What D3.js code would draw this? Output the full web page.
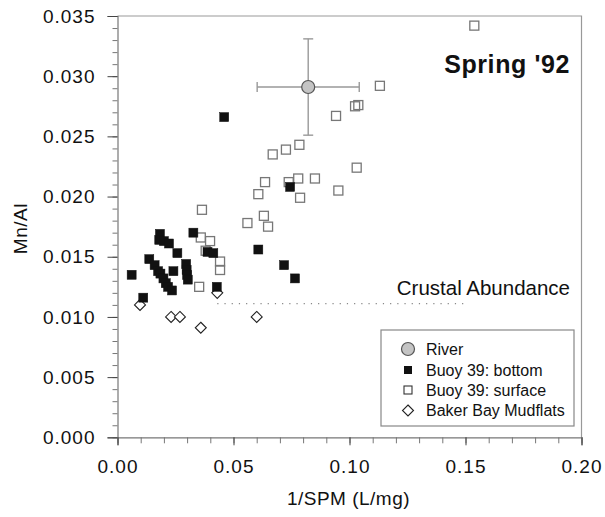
<!DOCTYPE html>
<html>
<head>
<meta charset="utf-8">
<script src="https://cdn.jsdelivr.net/npm/d3@7"></script>
<style>
  html, body { margin: 0; padding: 0; background: #fff; }
  svg text { font-family: "Liberation Sans", Arial, Helvetica, sans-serif; fill: #111; }
</style>
</head>
<body>
<svg id="chart" width="605" height="517"></svg>
<script>
// ---- data ----
const xTickValues = [0.00, 0.05, 0.10, 0.15, 0.20];
const xTickLabels = ["0.00", "0.05", "0.10", "0.15", "0.20"];
const yTickValues = [0.000, 0.005, 0.010, 0.015, 0.020, 0.025, 0.030, 0.035];
const yTickLabels = ["0.000", "0.005", "0.010", "0.015", "0.020", "0.025", "0.030", "0.035"];

const riverX = [0.0822];
const riverY = [0.0291];
const riverXErr = [0.022];
const riverYErr = [0.0040];

const bottomX = [0.0061, 0.0111, 0.0137, 0.0160, 0.0175, 0.0185, 0.0198, 0.0208, 0.0218, 0.0235,
                 0.0183, 0.0180, 0.0200, 0.0222, 0.0258, 0.0241, 0.0296, 0.0298, 0.0300, 0.0303,
                 0.0327, 0.0388, 0.0413, 0.0428, 0.0460, 0.0607, 0.0718, 0.0765, 0.0744];
const bottomY = [0.0135, 0.0116, 0.0148, 0.0143, 0.0138, 0.0136, 0.0132, 0.0128, 0.0125, 0.0122,
                 0.0169, 0.0164, 0.0163, 0.0161, 0.0153, 0.0138, 0.0144, 0.0139, 0.0135, 0.0131,
                 0.0170, 0.0154, 0.0153, 0.0125, 0.0266, 0.0156, 0.0143, 0.0132, 0.0208];

const surfaceX = [0.1538, 0.1131, 0.1024, 0.1038, 0.0942, 0.1031, 0.0784, 0.0726, 0.0669, 0.0636,
                  0.0738, 0.0779, 0.0851, 0.0607, 0.0787, 0.0952, 0.0364, 0.0560, 0.0631, 0.0649,
                  0.0359, 0.0399, 0.0380, 0.0442, 0.0442, 0.0352];
const surfaceY = [0.0342, 0.0292, 0.0275, 0.0276, 0.0267, 0.0224, 0.0243, 0.0239, 0.0235, 0.0212,
                  0.0212, 0.0215, 0.0215, 0.0202, 0.0199, 0.0205, 0.0189, 0.0178, 0.0184, 0.0175,
                  0.0166, 0.0163, 0.0155, 0.0146, 0.0139, 0.0125];

const mudX = [0.0097, 0.0231, 0.0269, 0.0359, 0.0430, 0.0600];
const mudY = [0.0110, 0.0100, 0.0100, 0.0091, 0.0120, 0.0100];

const crustalY = [0.0111];
const crustalXRange = [0.043, 0.150];

const titleText = "Spring '92";
const crustalLabel = "Crustal Abundance";
const xTitle = "1/SPM (L/mg)";
const yTitle = "Mn/Al";
const legendLabels = ["River", "Buoy 39: bottom", "Buoy 39: surface", "Baker Bay Mudflats"];

// ---- layout ----
const svg = d3.select("#chart");
const L = 117.5, R = 581.5, T = 16, B = 437.3;
const x = d3.scaleLinear().domain([0, 0.20]).range([L, R]);
const y = d3.scaleLinear().domain([0, 0.035]).range([B, T]);

const axisColor = "#777";

// frame (top & right)
svg.append("path")
  .attr("d", `M${L},${T}H${R}V${B}`)
  .attr("fill", "none").attr("stroke", "#999").attr("stroke-width", 1.2);

// minor ticks
const gy = svg.append("g").attr("transform", `translate(${L},0)`);
gy.call(d3.axisLeft(y).tickValues(d3.range(0, 36).map(i => i * 0.001)).tickSize(5).tickFormat(""));
gy.select(".domain").remove();
gy.selectAll("line").attr("stroke", axisColor);

const gx = svg.append("g").attr("transform", `translate(0,${B})`);
gx.call(d3.axisBottom(x).tickValues(d3.range(0, 21).map(i => i * 0.01)).tickSize(6).tickFormat(""));
gx.select(".domain").remove();
gx.selectAll("line").attr("stroke", axisColor);

// major ticks + labels
const gyM = svg.append("g").attr("transform", `translate(${L},0)`);
gyM.call(d3.axisLeft(y).tickValues(yTickValues).tickSize(10).tickPadding(12)
  .tickFormat((d, i) => yTickLabels[i]));
gyM.select(".domain").attr("stroke", axisColor).attr("stroke-width", 1.2);
gyM.selectAll("line").attr("stroke", "#444");
gyM.selectAll("text").style("font-size", "19px").style("letter-spacing", "1px").attr("fill", "#111");

const gxM = svg.append("g").attr("transform", `translate(0,${B})`);
gxM.call(d3.axisBottom(x).tickValues(xTickValues).tickSize(8).tickPadding(14)
  .tickFormat((d, i) => xTickLabels[i]));
gxM.select(".domain").attr("stroke", axisColor).attr("stroke-width", 1.2);
gxM.selectAll("line").attr("stroke", "#444");
gxM.selectAll("text").style("font-size", "19px").style("letter-spacing", "1px").attr("fill", "#111");

// axis titles
svg.append("text").attr("x", (L + R) / 2 - 1).attr("y", 505).attr("text-anchor", "middle")
  .style("font-size", "19px").style("letter-spacing", "0.5px").text(xTitle);
svg.append("text").attr("transform", `translate(27,${(T + B) / 2 + 2}) rotate(-90)`)
  .attr("text-anchor", "middle").style("font-size", "19px").style("letter-spacing", "0.5px").text(yTitle);

// crustal abundance dotted line
svg.append("line")
  .attr("x1", x(crustalXRange[0])).attr("x2", x(crustalXRange[1]))
  .attr("y1", y(crustalY[0])).attr("y2", y(crustalY[0]))
  .attr("stroke", "#888").attr("stroke-width", 1.2).attr("stroke-dasharray", "1.2,6");
svg.append("text").attr("x", 570).attr("y", 295).attr("text-anchor", "end")
  .style("font-size", "20.5px").text(crustalLabel);

// title
svg.append("text").attr("x", 570).attr("y", 73).attr("text-anchor", "end")
  .style("font-size", "25px").style("font-weight", "bold").style("letter-spacing", "0.6px").text(titleText);

// symbols
const sq = 9;
function diamondPath(cx, cy, r) { return `M${cx},${cy - r}L${cx + r},${cy}L${cx},${cy + r}L${cx - r},${cy}Z`; }

// diamonds
svg.append("g").selectAll("path").data(mudX.map((v, i) => [v, mudY[i]])).join("path")
  .attr("d", d => diamondPath(x(d[0]), y(d[1]), 5.5))
  .attr("fill", "#fff").attr("stroke", "#222").attr("stroke-width", 1.1);

// surface open squares
svg.append("g").selectAll("rect").data(surfaceX.map((v, i) => [v, surfaceY[i]])).join("rect")
  .attr("x", d => x(d[0]) - sq / 2).attr("y", d => y(d[1]) - sq / 2)
  .attr("width", sq).attr("height", sq)
  .attr("fill", "none").attr("stroke", "#777").attr("stroke-width", 1.3);

// bottom filled squares
svg.append("g").selectAll("rect").data(bottomX.map((v, i) => [v, bottomY[i]])).join("rect")
  .attr("x", d => x(d[0]) - sq / 2).attr("y", d => y(d[1]) - sq / 2)
  .attr("width", sq).attr("height", sq)
  .attr("fill", "#111").attr("stroke", "#111").attr("stroke-width", 0.5);

// river with error bars
const rx = x(riverX[0]), ry = y(riverY[0]);
const eb = svg.append("g").attr("stroke", "#999").attr("stroke-width", 1.4);
const xl = x(riverX[0] - riverXErr[0]), xr = x(riverX[0] + riverXErr[0]);
const yt = y(riverY[0] + riverYErr[0]), yb = y(riverY[0] - riverYErr[0]);
eb.append("line").attr("x1", xl).attr("x2", xr).attr("y1", ry).attr("y2", ry);
eb.append("line").attr("x1", rx).attr("x2", rx).attr("y1", yt).attr("y2", yb);
eb.append("line").attr("x1", xl).attr("x2", xl).attr("y1", ry - 5).attr("y2", ry + 5);
eb.append("line").attr("x1", xr).attr("x2", xr).attr("y1", ry - 5).attr("y2", ry + 5);
eb.append("line").attr("x1", rx - 5).attr("x2", rx + 5).attr("y1", yt).attr("y2", yt);
eb.append("line").attr("x1", rx - 5).attr("x2", rx + 5).attr("y1", yb).attr("y2", yb);
svg.append("circle").attr("cx", rx).attr("cy", ry).attr("r", 6.5)
  .attr("fill", "#c4c4c4").attr("stroke", "#555").attr("stroke-width", 1.2);

// legend
const lg = svg.append("g");
lg.append("rect").attr("x", 381).attr("y", 330).attr("width", 193).attr("height", 96)
  .attr("fill", "#fff").attr("stroke", "#888").attr("stroke-width", 1.2);
const ly = [349, 370, 390, 410.5];
const sx = 408;
lg.append("circle").attr("cx", sx).attr("cy", ly[0]).attr("r", 6.5)
  .attr("fill", "#c4c4c4").attr("stroke", "#555").attr("stroke-width", 1.2);
lg.append("rect").attr("x", sx - 4).attr("y", ly[1] - 4).attr("width", 8).attr("height", 8).attr("fill", "#111");
lg.append("rect").attr("x", sx - 4).attr("y", ly[2] - 4).attr("width", 8).attr("height", 8)
  .attr("fill", "none").attr("stroke", "#333").attr("stroke-width", 1.1);
lg.append("path").attr("d", diamondPath(sx, ly[3], 5.5)).attr("fill", "#fff").attr("stroke", "#222").attr("stroke-width", 1.1);
lg.selectAll("text.lab").data(legendLabels).join("text").attr("class", "lab")
  .attr("x", 426).attr("y", (d, i) => ly[i] + 5.5)
  .style("font-size", "16px").text(d => d);
</script>
</body>
</html>
